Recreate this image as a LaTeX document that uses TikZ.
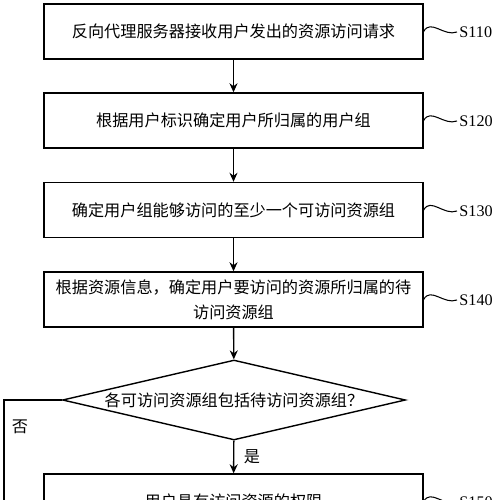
\documentclass[tikz,border=0pt]{standalone}
\usepackage{fontspec}
\setmainfont{Liberation Serif}
\newfontfamily\cjk{Noto Sans CJK SC}
\usetikzlibrary{shapes.geometric, arrows.meta}

\begin{document}
\begin{tikzpicture}[x=0.02cm, y=-0.02cm, >={Stealth[length=1.8mm, width=1.6mm]}, line width=0.8pt,
    font=\cjk\fontsize{9.2}{14}\selectfont,
    stepbox/.style={draw, rectangle, align=center, inner sep=0pt,
      minimum width=7.58cm, minimum height=1.1cm},
    decision/.style={draw, diamond, aspect=4.3, inner sep=0pt,
      minimum width=6.86cm, minimum height=1.6cm},
    steplabel/.style={anchor=west, inner sep=1pt,
      font=\fontsize{9.2}{12}\selectfont}]
      \useasboundingbox (0,0) rectangle (500,500);
      \clip (0,0) rectangle (500,500);

      % Steps
      \foreach \i/\y/\t in {1/31.5/{反向代理服务器接收用户发出的资源访问请求},
          2/120.5/{根据用户标识确定用户所归属的用户组},
          3/210/{确定用户组能够访问的至少一个可访问资源组},
          4/299.5/{根据资源信息，确定用户要访问的资源所归属的待\\访问资源组},
          5/501.5/{用户具有访问资源的权限}}
      \node[stepbox] (s\i) at (233.5,\y) {\t};

      % Decision
      \node[decision] (d) at (234,400) {各可访问资源组包括待访问资源组？};

      % Step labels
      \foreach \i/\y/\n in {1/32/S110, 2/121/S120, 3/211/S130, 4/300/S140, 5/502/S150}
      {
      \node[steplabel] (l\i) at (457,\y) {\n};
      \draw[line width=0.6pt] (s\i.east) .. controls +(7,-13) and +(-13,5) .. (l\i.west);
      }

      % Connections
      \foreach \i [count=\j from 2] in {1,2,3}
      \draw[->] (s\i) -- (s\j);
      \draw[->] (s4) -- (d);
      \draw[->] (d) -- (s5) node[midway, right, xshift=2pt] {是};

      \coordinate (noend) at (4,520);
      \draw (d.west) -| (noend);
      \node (no) at (20,427) {否};

   \end{tikzpicture}
\end{document}
